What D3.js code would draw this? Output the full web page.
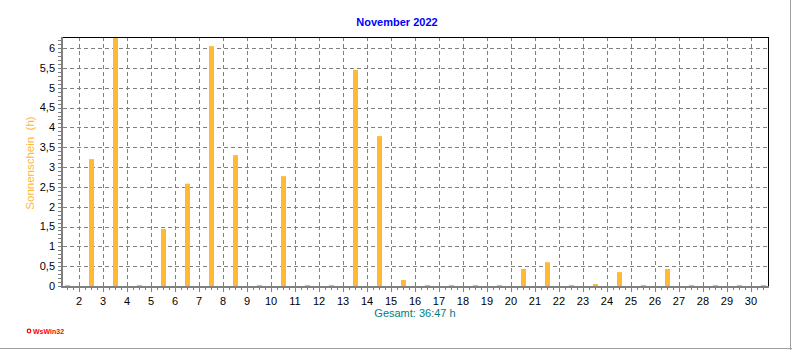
<!DOCTYPE html>
<html>
<head>
<meta charset="utf-8">
<script src="https://d3js.org/d3.v7.min.js"></script>
<style>
  body { margin: 0; background: #fff; }
  text { font-family: 'Liberation Sans', Arial, sans-serif; }
</style>
</head>
<body>
<div id="vis"></div>
<script>
  // values (hours of sunshine per day, November 2022)
  var days = [1, 2, 3, 4, 5, 6, 7, 8, 9, 10, 11, 12, 13, 14, 15,
              16, 17, 18, 19, 20, 21, 22, 23, 24, 25, 26, 27, 28, 29, 30];
  var sunHours = [0, 3.2, 6.3, 0, 1.44, 2.58, 6.05, 3.3, 0, 2.77, 0, 0, 5.45, 3.78, 0.15,
                  0, 0, 0, 0, 0.43, 0.6, 0, 0.05, 0.35, 0, 0.43, 0, 0, 0, 0];
  var dayTicks = [2, 3, 4, 5, 6, 7, 8, 9, 10, 11, 12, 13, 14, 15, 16,
                  17, 18, 19, 20, 21, 22, 23, 24, 25, 26, 27, 28, 29, 30];
  var hourTicks = [0, 0.5, 1, 1.5, 2, 2.5, 3, 3.5, 4, 4.5, 5, 5.5, 6];
  var title = 'November 2022';
  var yTitle = 'Sonnenschein  (h)';
  var totalText = 'Gesamt: 36:47 h';

  var W = 792, H = 350;
  var plot = { left: 62, right: 768, top: 37, bottom: 286 };
  var barColor = '#ffb932';
  var gridColor = '#808080';

  var svg = d3.select('#vis').append('svg')
    .attr('width', W)
    .attr('height', H);

  var x = d3.scaleLinear().domain([1.29, 30.71]).range([plot.left, plot.right]);
  var y = d3.scaleLinear().domain([0, 6.28]).range([plot.bottom, plot.top]);

  // outer frame (right + bottom)
  svg.append('line').attr('x1', 790.5).attr('x2', 790.5).attr('y1', 0).attr('y2', H)
    .attr('stroke', '#a0a0a0').attr('stroke-width', 1);
  svg.append('line').attr('x1', 0).attr('x2', W).attr('y1', 348.5).attr('y2', 348.5)
    .attr('stroke', '#a0a0a0').attr('stroke-width', 1);

  // grid
  svg.append('g').selectAll('line')
    .data(hourTicks.filter(function(d) { return d > 0; }))
    .enter().append('line')
    .attr('x1', plot.left + 1).attr('x2', plot.right)
    .attr('y1', function(d) { return Math.round(y(d)) + 0.5; })
    .attr('y2', function(d) { return Math.round(y(d)) + 0.5; })
    .attr('stroke', gridColor).attr('stroke-dasharray', '4,3');

  svg.append('g').selectAll('line')
    .data(dayTicks)
    .enter().append('line')
    .attr('x1', function(d) { return Math.round(x(d)) + 0.5; })
    .attr('x2', function(d) { return Math.round(x(d)) + 0.5; })
    .attr('y1', plot.top).attr('y2', plot.bottom)
    .attr('stroke', gridColor).attr('stroke-dasharray', '4,3');

  // bars
  svg.append('clipPath').attr('id', 'clip')
    .append('rect')
    .attr('x', plot.left).attr('y', plot.top)
    .attr('width', plot.right - plot.left).attr('height', plot.bottom - plot.top);

  svg.append('g').attr('clip-path', 'url(#clip)')
    .selectAll('rect')
    .data(days)
    .enter().append('rect')
    .attr('x', function(d) { return Math.round(x(d + 0.5)) - 2; })
    .attr('width', 5)
    .attr('y', function(d, i) { return Math.min(plot.bottom - 1, y(sunHours[i])); })
    .attr('height', function(d, i) { return Math.max(1, plot.bottom - y(sunHours[i])); })
    .attr('fill', barColor);

  // plot border (top + right)
  svg.append('line').attr('x1', plot.left).attr('x2', plot.right + 0.5)
    .attr('y1', plot.top + 0.5).attr('y2', plot.top + 0.5).attr('stroke', '#000');
  svg.append('line').attr('x1', plot.right + 0.5).attr('x2', plot.right + 0.5)
    .attr('y1', plot.top).attr('y2', plot.bottom + 1).attr('stroke', '#000');

  // minor ticks
  var minorY = d3.range(0, 6.25, 0.1);
  svg.append('g').selectAll('line')
    .data(minorY)
    .enter().append('line')
    .attr('x1', 58).attr('x2', 61)
    .attr('y1', function(d) { return Math.round(y(d)) + 0.5; })
    .attr('y2', function(d) { return Math.round(y(d)) + 0.5; })
    .attr('stroke', gridColor);

  var minorX = d3.range(1.5, 30.71, 0.25);
  svg.append('g').selectAll('line')
    .data(minorX)
    .enter().append('line')
    .attr('x1', function(d) { return Math.round(x(d)) + 0.5; })
    .attr('x2', function(d) { return Math.round(x(d)) + 0.5; })
    .attr('y1', 288)
    .attr('y2', function(d) { return d % 1 === 0 ? 292 : 290; })
    .attr('stroke', gridColor);

  // axis lines
  svg.append('line').attr('x1', 62).attr('x2', 62).attr('y1', plot.top).attr('y2', 288)
    .attr('stroke', gridColor).attr('stroke-width', 2);
  svg.append('line').attr('x1', 61).attr('x2', plot.right + 1).attr('y1', 287).attr('y2', 287)
    .attr('stroke', gridColor).attr('stroke-width', 2);

  // tick labels
  svg.append('g').selectAll('text')
    .data(hourTicks)
    .enter().append('text')
    .attr('x', 55)
    .attr('y', function(d) { return y(d); })
    .attr('dy', '0.35em')
    .attr('text-anchor', 'end')
    .attr('font-size', 11)
    .attr('fill', '#000')
    .text(function(d) { return String(d).replace('.', ','); });

  svg.append('g').selectAll('text')
    .data(dayTicks)
    .enter().append('text')
    .attr('x', function(d) { return x(d); })
    .attr('y', 305)
    .attr('text-anchor', 'middle')
    .attr('font-size', 11)
    .attr('fill', '#000')
    .text(function(d) { return d; });

  // titles
  svg.append('text')
    .attr('x', 397).attr('y', 26)
    .attr('text-anchor', 'middle')
    .attr('font-size', 11).attr('font-weight', 'bold')
    .attr('fill', '#0000ff')
    .text(title);

  svg.append('text')
    .attr('transform', 'translate(34,163) rotate(-90)')
    .attr('text-anchor', 'middle')
    .attr('font-size', 11.5)
    .attr('fill', barColor)
    .style('white-space', 'pre')
    .text(yTitle);

  svg.append('text')
    .attr('x', 415).attr('y', 317)
    .attr('text-anchor', 'middle')
    .attr('font-size', 11)
    .attr('fill', '#008080')
    .text(totalText);

  // logo
  svg.append('circle').attr('cx', 29).attr('cy', 331).attr('r', 1.8)
    .attr('fill', '#fff').attr('stroke', '#ff0000').attr('stroke-width', 1.2);
  svg.append('text')
    .attr('x', 33).attr('y', 334)
    .attr('font-size', 7).attr('font-weight', 'bold')
    .attr('fill', '#ff0000')
    .text('WsWin32');
</script>
</body>
</html>
